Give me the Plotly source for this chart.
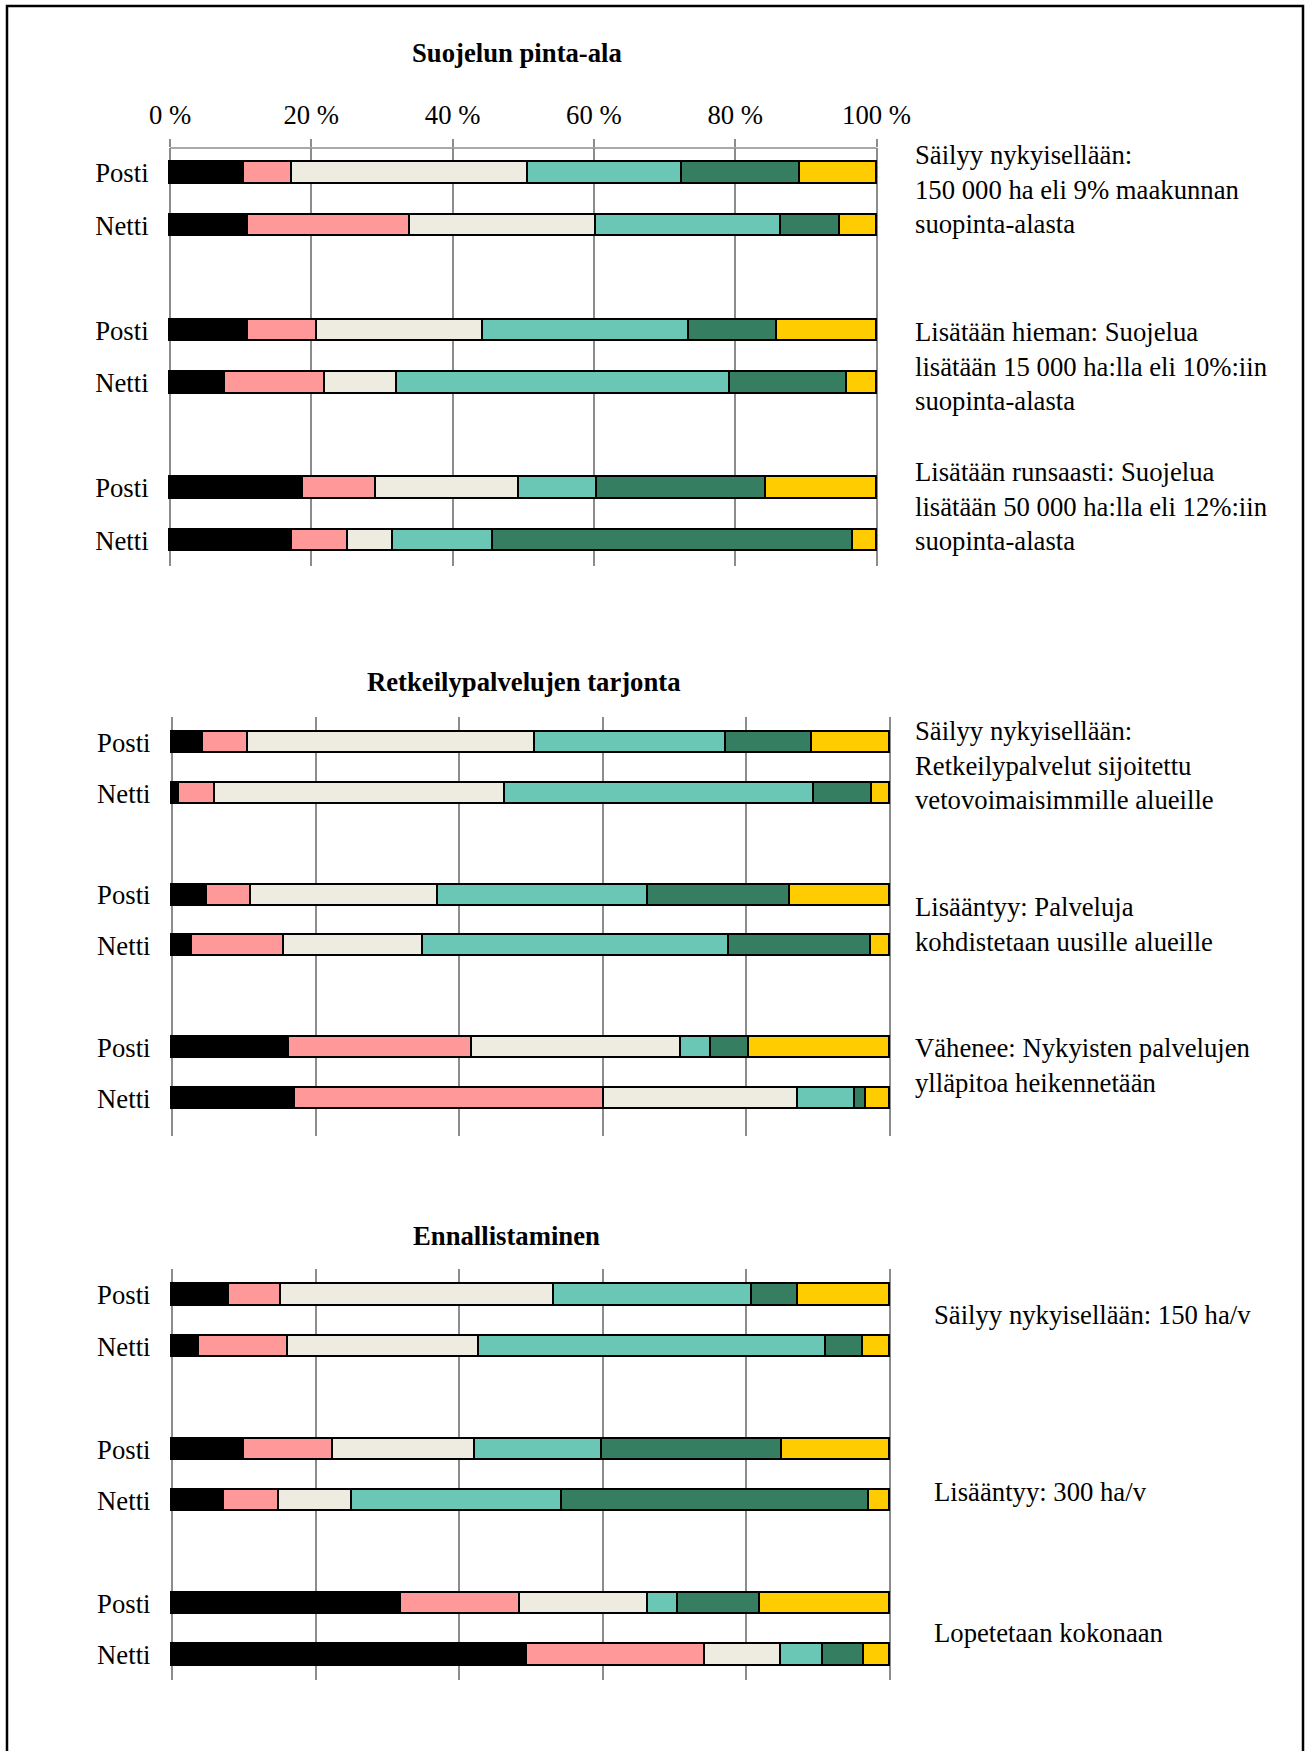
import plotly.graph_objects as go

W, H = 1307, 1751
FONT = "Liberation Serif"
FS = 26.7

ROW_LABELS = ["Posti", "Netti", "Posti", "Netti", "Posti", "Netti"]
ROW_POS = [0, 1, 3, 4, 6, 7]
X_TICKS = [0, 20, 40, 60, 80, 100]
X_TICK_TEXT = ["0 %", "20 %", "40 %", "60 %", "80 %", "100 %"]

# one row per bar, six answer groups per row (sum 100 %)
SUOJELU = [
    [10.5, 6.7, 33.4, 21.8, 16.7, 10.9],
    [11.0, 22.9, 26.4, 26.2, 8.3, 5.2],
    [11.0, 9.8, 23.5, 29.1, 12.5, 14.1],
    [7.8, 14.1, 10.2, 47.2, 16.5, 4.2],
    [18.8, 10.4, 20.2, 11.0, 24.0, 15.6],
    [17.3, 7.9, 6.3, 14.2, 51.0, 3.3],
]
RETKEILY = [
    [4.3, 6.2, 40.1, 26.5, 12.0, 10.9],
    [1.0, 5.0, 40.4, 43.0, 8.1, 2.5],
    [4.9, 6.1, 26.0, 29.2, 19.8, 14.0],
    [2.7, 12.9, 19.3, 42.7, 19.7, 2.7],
    [16.2, 25.5, 29.2, 4.2, 5.2, 19.7],
    [17.1, 43.0, 27.0, 8.0, 1.5, 3.4],
]
ENNALLISTAMINEN = [
    [7.9, 7.3, 38.0, 27.6, 6.3, 12.9],
    [3.8, 12.3, 26.7, 48.3, 5.1, 3.8],
    [10.0, 12.4, 19.8, 17.7, 25.1, 15.0],
    [7.2, 7.7, 10.1, 29.3, 42.7, 3.0],
    [31.9, 16.5, 17.8, 4.2, 11.5, 18.1],
    [49.4, 24.8, 10.6, 5.9, 5.6, 3.7],
]

TITLES = ["Suojelun pinta-ala", "Retkeilypalvelujen tarjonta", "Ennallistaminen"]
SUOJELU_NOTES = [
    "Säilyy nykyisellään:<br>150 000 ha eli 9% maakunnan<br>suopinta-alasta",
    "Lisätään hieman: Suojelua<br>lisätään 15 000 ha:lla eli 10%:iin<br>suopinta-alasta",
    "Lisätään runsaasti: Suojelua<br>lisätään 50 000 ha:lla eli 12%:iin<br>suopinta-alasta",
]
RETKEILY_NOTES = [
    "Säilyy nykyisellään:<br>Retkeilypalvelut sijoitettu<br>vetovoimaisimmille alueille",
    "Lisääntyy: Palveluja<br>kohdistetaan uusille alueille",
    "Vähenee: Nykyisten palvelujen<br>ylläpitoa heikennetään",
]
ENNALLISTAMINEN_NOTES = [
    "Säilyy nykyisellään: 150 ha/v",
    "Lisääntyy: 300 ha/v",
    "Lopetetaan kokonaan",
]

COLORS = ["#000000", "#FF9999", "#EEECE1", "#6AC7B5", "#357E62", "#FFCC00"]
GRID = "#8c8c8c"

# pixel layout of each panel (x0/x1 = where 0 % and 100 % fall)
panels = [
    dict(data=SUOJELU, notes=SUOJELU_NOTES, title=TITLES[0], x0=170, x1=876.5,
         top=148, bottom=566, first=173, last=540.5, title_xy=(517, 52.5),
         notes_x=913, notes_y=[189.5, 366.4, 506.7], ticklabels=True),
    dict(data=RETKEILY, notes=RETKEILY_NOTES, title=TITLES[1], x0=172, x1=890,
         top=717, bottom=1136, first=742.7, last=1098.3, title_xy=(524, 682),
         notes_x=913, notes_y=[765.6, 924.3, 1065.5], ticklabels=False),
    dict(data=ENNALLISTAMINEN, notes=ENNALLISTAMINEN_NOTES, title=TITLES[2], x0=172, x1=890,
         top=1269, bottom=1680, first=1295, last=1655, title_xy=(506, 1235.5),
         notes_x=931.7, notes_y=[1315, 1491.7, 1632.7], ticklabels=False),
]


def px(x):
    return x / W


def py(y):
    return 1 - y / H


fig = go.Figure()
annotations = []
shapes = [dict(type="rect", xref="paper", yref="paper", x0=px(7), x1=px(1303),
               y0=py(1760), y1=py(6), line=dict(color="#000000", width=2.5))]
for i, p in enumerate(panels, start=1):
    xa = "x" if i == 1 else f"x{i}"
    ya = "y" if i == 1 else f"y{i}"
    for k, color in enumerate(COLORS):
        fig.add_trace(go.Bar(
            x=[row[k] for row in p["data"]], y=ROW_POS, orientation="h",
            xaxis=xa, yaxis=ya, width=0.41, showlegend=False,
            marker=dict(color=color, line=dict(color="#000000", width=1.6)),
        ))
    unit = (p["last"] - p["first"]) / 7
    y_top = (p["top"] - p["first"]) / unit
    y_bot = (p["bottom"] - p["first"]) / unit
    pct = (p["x1"] - p["x0"]) / 100
    xkey = "xaxis" if i == 1 else f"xaxis{i}"
    ykey = "yaxis" if i == 1 else f"yaxis{i}"
    fig.update_layout({
        xkey: dict(
            domain=[px(p["x0"] - pct), px(p["x1"] + pct)], anchor=ya, range=[-1, 101],
            tickvals=X_TICKS, ticktext=X_TICK_TEXT, showticklabels=p["ticklabels"],
            side="top", ticks="outside" if p["ticklabels"] else "", ticklen=8,
            tickcolor=GRID, tickwidth=1.5, ticklabelstandoff=4, showline=False,
            showgrid=True, gridcolor=GRID, gridwidth=1.5,
            zeroline=False, automargin=False, fixedrange=True,
            tickfont=dict(family=FONT, size=FS, color="#000000"),
        ),
        ykey: dict(
            domain=[py(p["bottom"]), py(p["top"])], anchor=xa, range=[y_bot, y_top],
            tickvals=ROW_POS, ticktext=ROW_LABELS, ticks="outside", ticklen=8,
            tickcolor="rgba(0,0,0,0)", showgrid=False, zeroline=False, showline=False,
            automargin=False, fixedrange=True,
            tickfont=dict(family=FONT, size=FS, color="#000000"),
        ),
    })
    if p["ticklabels"]:
        # axis line along the top, 0 % .. 100 %
        shapes.append(dict(type="line", xref=xa, yref="paper", x0=0, x1=100,
                           y0=py(p["top"]), y1=py(p["top"]),
                           line=dict(color=GRID, width=1.5)))
    annotations.append(dict(
        text=f"<b>{p['title']}</b>", x=px(p["title_xy"][0]), y=py(p["title_xy"][1]),
        xref="paper", yref="paper", xanchor="center", yanchor="middle", showarrow=False,
        font=dict(family=FONT, size=FS, color="#000000"),
    ))
    for note, ny in zip(p["notes"], p["notes_y"]):
        annotations.append(dict(
            text=note, x=px(p["notes_x"]), y=py(ny), xref="paper", yref="paper",
            xanchor="left", yanchor="middle", align="left", showarrow=False,
            font=dict(family=FONT, size=FS, color="#000000"),
        ))

fig.update_layout(
    template="none", width=W, height=H, barmode="stack", bargap=0,
    margin=dict(l=0, r=0, t=0, b=0, pad=0),
    paper_bgcolor="#ffffff", plot_bgcolor="rgba(0,0,0,0)",
    annotations=annotations, shapes=shapes,
)

fig.write_html("out.html", config={"displayModeBar": False},
               post_script="document.body.style.margin = '0';")
